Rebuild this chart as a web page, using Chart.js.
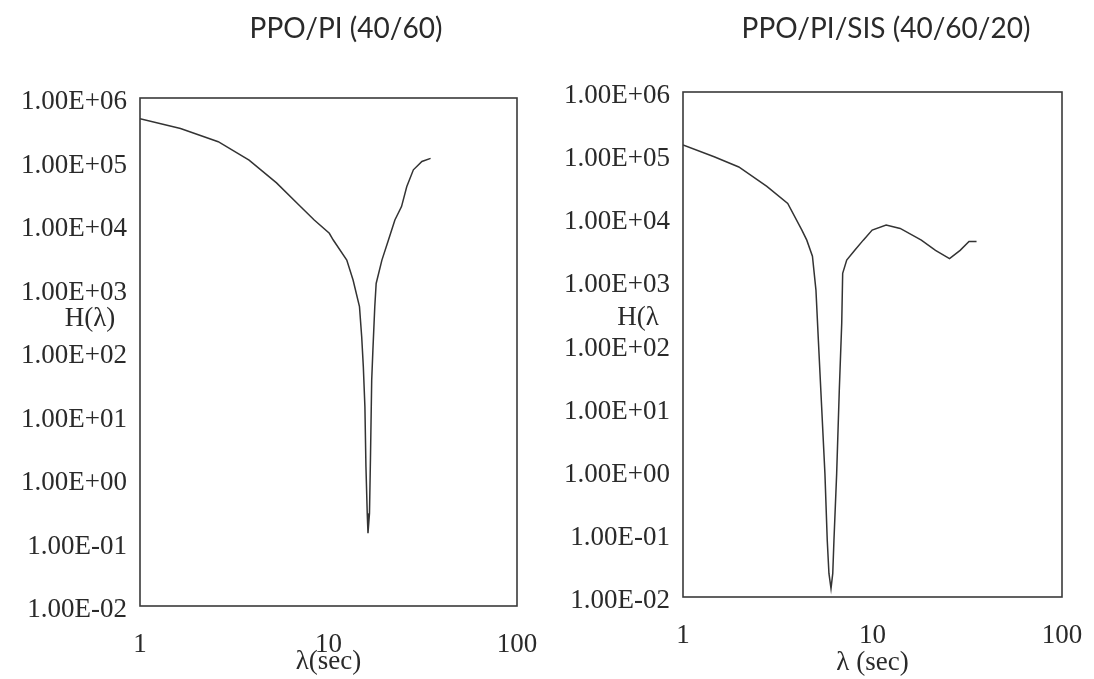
<!DOCTYPE html>
<html>
<head>
<meta charset="utf-8">
<script src="https://cdn.jsdelivr.net/npm/chart.js@4/dist/chart.umd.min.js"></script>
<style>
  html, body { margin: 0; padding: 0; background: #ffffff; }
  #wrap { position: relative; width: 1094px; height: 679px; overflow: hidden; background: #ffffff; }
  .box { position: absolute; top: 0; height: 679px; }
  #boxL { left: 0; width: 540px; }
  #boxR { left: 540px; width: 554px; }
</style>
</head>
<body>
<div id="wrap">
  <div class="box" id="boxL"><canvas id="cL"></canvas></div>
  <div class="box" id="boxR"><canvas id="cR"></canvas></div>
</div>
<script>
// ---- data ----
const titleLeft = "PPO/PI (40/60)";
const titleRight = "PPO/PI/SIS (40/60/20)";
const yLabelLeft = "H(\u03bb)";
const yLabelRight = "H(\u03bb";
const xTitleLeft = "\u03bb(sec)";
const xTitleRight = "\u03bb (sec)";

const xTickValues = [1, 10, 100];
const yTickExponents = [-2, -1, 0, 1, 2, 3, 4, 5, 6];

const lambdaLeft = [1.0, 1.64, 2.6, 3.79, 5.3, 7.1, 8.4, 10.1, 10.6, 12.5, 13.5, 14.6, 15.0, 15.3, 15.6, 15.8, 16.05, 16.2, 16.5, 16.7, 16.95, 17.2, 17.6, 17.9, 19.2, 20.8, 22.5, 24.4, 26.0, 28.2, 31.3, 34.8];
const hLeft      = [4.7e5, 3.3e5, 2.05e5, 1.05e5, 4.6e4, 1.95e4, 1.2e4, 7.4e3, 5.8e3, 2.8e3, 1.36e3, 517, 174, 59, 13.8, 1.56, 0.29, 0.14, 0.29, 2.2, 36, 107, 517, 1.2e3, 2.8e3, 5.8e3, 1.2e4, 1.95e4, 4.0e4, 7.4e4, 1.0e5, 1.12e5];

const lambdaRight = [1.0, 1.46, 1.97, 2.77, 3.57, 4.24, 4.50, 4.82, 5.03, 5.18, 5.39, 5.61, 5.77, 5.89, 6.04, 6.17, 6.26, 6.47, 6.68, 6.88, 6.96, 7.31, 8.08, 8.94, 9.96, 11.8, 14.0, 18.1, 21.5, 25.5, 29.0, 32.3, 35.4];
const hRight      = [1.45e5, 9.4e4, 6.5e4, 3.2e4, 1.72e4, 6.5e3, 4.5e3, 2.5e3, 728, 117, 10.3, 0.9, 0.079, 0.0236, 0.0136, 0.0236, 0.079, 0.9, 18.9, 216, 1.34e3, 2.18e3, 3.13e3, 4.5e3, 6.5e3, 7.8e3, 6.9e3, 4.5e3, 3.1e3, 2.3e3, 3.1e3, 4.3e3, 4.3e3];

// ---- helpers ----
function fmtExp(v) {
  const e = Math.round(Math.log10(v));
  return "1.00E" + (e < 0 ? "-" : "+") + String(Math.abs(e)).padStart(2, "0");
}
function pairs(xs, ys) { return xs.map((x, i) => ({ x: x, y: ys[i] })); }

const SERIF = "'Liberation Serif', 'DejaVu Serif', serif";
const INK = "#2a2a2a";

const framePlugin = {
  id: "frame",
  afterDraw(chart) {
    const a = chart.chartArea, ctx = chart.ctx;
    ctx.save();
    ctx.strokeStyle = "#3a3a3a";
    ctx.lineWidth = 1.6;
    ctx.strokeRect(a.left, a.top, a.right - a.left, a.bottom - a.top);
    ctx.restore();
  }
};
const textPlugin = {
  id: "texts",
  afterDraw(chart, args, opts) {
    const ctx = chart.ctx;
    (opts.items || []).forEach(it => {
      ctx.save();
      ctx.font = it.font;
      ctx.fillStyle = it.color || INK;
      ctx.textAlign = "center";
      ctx.textBaseline = "alphabetic";
      ctx.fillText(it.text, it.x, it.y);
      ctx.restore();
    });
  }
};

function makeChart(canvasId, xs, ys, cfg) {
  return new Chart(document.getElementById(canvasId), {
    type: "line",
    data: {
      datasets: [{
        data: pairs(xs, ys),
        borderColor: "#333333",
        borderWidth: 1.5,
        pointRadius: 0,
        tension: 0,
        fill: false
      }]
    },
    options: {
      responsive: true,
      maintainAspectRatio: false,
      animation: false,
      devicePixelRatio: 1,
      layout: { padding: { left: 0, top: cfg.top, right: cfg.right, bottom: 0 } },
      plugins: {
        legend: { display: false },
        tooltip: { enabled: false },
        texts: { items: cfg.texts }
      },
      scales: {
        x: {
          type: "logarithmic",
          min: 1, max: 100,
          grid: { display: false, drawTicks: false },
          border: { display: false },
          afterBuildTicks: s => { s.ticks = xTickValues.map(v => ({ value: v })); },
          afterFit: s => { s.height = cfg.xHeight; s.paddingLeft = 0; s.paddingRight = 0; },
          ticks: {
            padding: 23,
            maxRotation: 0,
            autoSkip: false,
            color: INK,
            font: { family: SERIF, size: 27 },
            callback: v => String(v)
          },
          title: {
            display: true,
            text: cfg.xTitle,
            color: INK,
            font: { family: SERIF, size: 27 },
            padding: { top: 0, bottom: cfg.xTitlePad }
          }
        },
        y: {
          type: "logarithmic",
          min: 0.01, max: 1e6,
          grid: { display: false, drawTicks: false },
          border: { display: false },
          afterBuildTicks: s => { s.ticks = yTickExponents.map(e => ({ value: Math.pow(10, e) })); },
          afterFit: s => { s.width = cfg.yWidth; s.paddingTop = 0; s.paddingBottom = 0; },
          ticks: {
            padding: 13,
            labelOffset: 4,
            autoSkip: false,
            color: INK,
            font: { family: SERIF, size: 27 },
            callback: v => fmtExp(v)
          }
        }
      }
    },
    plugins: [framePlugin, textPlugin]
  });
}

makeChart("cL", lambdaLeft, hLeft, {
  top: 98, right: 23, yWidth: 140, xHeight: 73,
  xTitle: xTitleLeft, xTitlePad: 1,
  texts: [
    { text: titleLeft, x: 346, y: 38, font: "28px Lato, 'Open Sans', sans-serif" },
    { text: yLabelLeft, x: 90, y: 326, font: "27px " + SERIF }
  ]
});
makeChart("cR", lambdaRight, hRight, {
  top: 92, right: 32, yWidth: 143, xHeight: 82,
  xTitle: xTitleRight, xTitlePad: 0,
  texts: [
    { text: titleRight, x: 346, y: 38, font: "28px Lato, 'Open Sans', sans-serif" },
    { text: yLabelRight, x: 98, y: 325, font: "27px " + SERIF }
  ]
});
</script>
</body>
</html>
